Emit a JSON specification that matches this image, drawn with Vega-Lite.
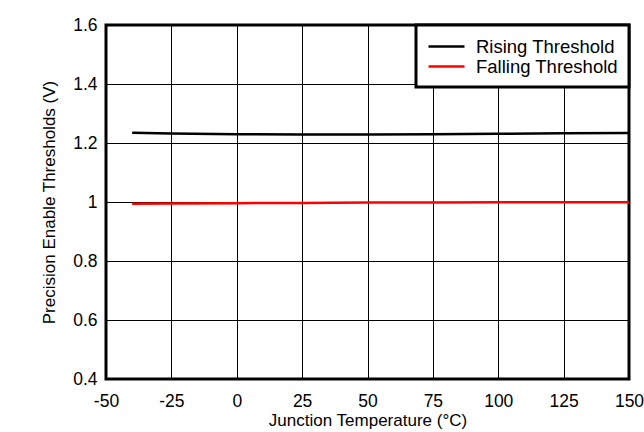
{
  "$schema": "https://vega.github.io/schema/vega-lite/v6.json",
  "width": 523,
  "height": 354,
  "autosize": {"type": "none"},
  "padding": {"left": 106, "top": 25, "right": 15, "bottom": 53},
  "background": "white",
  "config": {
    "font": "Liberation Sans",
    "view": {"stroke": "#000", "strokeWidth": 3},
    "axis": {
      "domain": false,
      "ticks": false,
      "grid": true,
      "gridColor": "#000",
      "gridOpacity": 1,
      "gridWidth": 1,
      "labelFont": "Liberation Sans",
      "labelFontSize": 17.5,
      "labelColor": "#000",
      "titleFont": "Liberation Sans",
      "titleFontSize": 17,
      "titleFontWeight": "normal",
      "titleColor": "#000"
    },
    "legend": {
      "labelFont": "Liberation Sans",
      "labelFontSize": 18.5,
      "labelColor": "#000",
      "fillColor": "white",
      "strokeColor": "#000",
      "strokeWidth": 3,
      "padding": 11,
      "symbolType": "M-1,0H3",
      "symbolSize": 324,
      "symbolStrokeWidth": 2.5,
      "symbolFillColor": "transparent",
      "rowPadding": -1,
      "labelOffset": 28
    }
  },
  "data": {
    "values": [
      {"t": -40, "v": 1.235, "s": "Rising Threshold"},
      {"t": -25, "v": 1.232, "s": "Rising Threshold"},
      {"t": 0, "v": 1.230, "s": "Rising Threshold"},
      {"t": 25, "v": 1.229, "s": "Rising Threshold"},
      {"t": 50, "v": 1.229, "s": "Rising Threshold"},
      {"t": 75, "v": 1.230, "s": "Rising Threshold"},
      {"t": 100, "v": 1.231, "s": "Rising Threshold"},
      {"t": 125, "v": 1.233, "s": "Rising Threshold"},
      {"t": 150, "v": 1.234, "s": "Rising Threshold"},
      {"t": -40, "v": 0.994, "s": "Falling Threshold"},
      {"t": -25, "v": 0.995, "s": "Falling Threshold"},
      {"t": 0, "v": 0.996, "s": "Falling Threshold"},
      {"t": 25, "v": 0.997, "s": "Falling Threshold"},
      {"t": 50, "v": 0.998, "s": "Falling Threshold"},
      {"t": 75, "v": 0.998, "s": "Falling Threshold"},
      {"t": 100, "v": 0.999, "s": "Falling Threshold"},
      {"t": 125, "v": 0.999, "s": "Falling Threshold"},
      {"t": 150, "v": 0.999, "s": "Falling Threshold"}
    ]
  },
  "mark": {"type": "line", "strokeWidth": 2.5, "clip": true},
  "encoding": {
    "x": {
      "field": "t",
      "type": "quantitative",
      "scale": {"domain": [-50, 150], "nice": false, "zero": false},
      "axis": {
        "values": [-50, -25, 0, 25, 50, 75, 100, 125, 150],
        "labelExpr": "toString(datum.value)",
        "title": "Junction Temperature (°C)",
        "labelPadding": 13,
        "titlePadding": 3,
        "labelFlush": false
      }
    },
    "y": {
      "field": "v",
      "type": "quantitative",
      "scale": {"domain": [0.4, 1.6], "nice": false, "zero": false},
      "axis": {
        "values": [0.4, 0.6, 0.8, 1, 1.2, 1.4, 1.6],
        "labelExpr": "toString(datum.value)",
        "title": "Precision Enable Thresholds (V)",
        "labelPadding": 9,
        "titlePadding": 14,
        "labelFlush": false
      }
    },
    "color": {
      "field": "s",
      "type": "nominal",
      "sort": ["Rising Threshold", "Falling Threshold"],
      "scale": {
        "domain": ["Rising Threshold", "Falling Threshold"],
        "range": ["#000000", "#ff0000"]
      },
      "legend": {
        "title": null,
        "orient": "top-right",
        "offset": 0
      }
    }
  }
}
